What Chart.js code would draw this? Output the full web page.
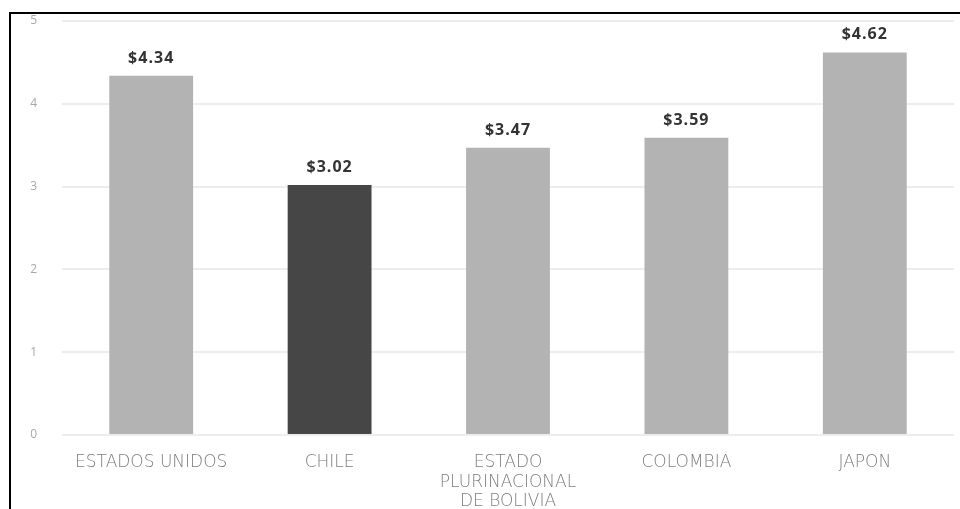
<html lang="es">
<head>
  <meta charset="utf-8">
  <script src="https://cdn.jsdelivr.net/npm/chart.js@4.4.1/dist/chart.umd.min.js"></script>
  <style>
    html, body { margin: 0; padding: 0; background: #fff; }
    #wrap { position: relative; width: 960px; height: 509px; overflow: hidden; }
    #frame { position: absolute; left: 9px; top: 12px; right: -10px; bottom: -10px;
             border-left: 2px solid #000; border-top: 2px solid #000; pointer-events: none; }
    canvas { position: absolute; left: 0; top: 0; }
  </style>
</head>
<body>
  <div id="wrap">
    <canvas id="chart" width="960" height="509"></canvas>
    <div id="frame"></div>
  </div>

<script>
  // datos
  var paises = [["ESTADOS UNIDOS"], ["CHILE"], ["ESTADO", "PLURINACIONAL", "DE BOLIVIA"], ["COLOMBIA"], ["JAPON"]];
  var precios = [4.34, 3.02, 3.47, 3.59, 4.62];
  var colores = ["#b3b3b3", "#464646", "#b3b3b3", "#b3b3b3", "#b3b3b3"];
  var yTicks = [0, 1, 2, 3, 4, 5];

  // etiquetas de valor sobre las barras
  var valueLabels = {
    id: 'valueLabels',
    afterDatasetsDraw: function(chart) {
      var ctx = chart.ctx;
      var meta = chart.getDatasetMeta(0);
      ctx.save();
      ctx.font = 'bold 16px "Open Sans", sans-serif';
      ctx.letterSpacing = '1px';
      ctx.fillStyle = '#333';
      ctx.textAlign = 'center';
      ctx.textBaseline = 'alphabetic';
      meta.data.forEach(function(bar, i) {
        ctx.fillText('$' + precios[i].toFixed(2), bar.x, bar.y - 13);
      });
      ctx.restore();
    }
  };

  new Chart(document.getElementById('chart'), {
    type: 'bar',
    data: {
      labels: paises,
      datasets: [{
        data: precios,
        backgroundColor: colores,
        borderWidth: 0,
        categoryPercentage: 1,
        barPercentage: 0.47
      }]
    },
    options: {
      responsive: false,
      animation: false,
      layout: { padding: { left: 12, top: 21, right: 6, bottom: 0 } },
      plugins: { legend: { display: false }, tooltip: { enabled: false } },
      scales: {
        x: {
          grid: { display: false },
          border: { display: false },
          ticks: {
            color: '#7d7d7d',
            font: { family: '"DejaVu Sans", sans-serif', size: 17, weight: '200', lineHeight: 1.15 },
            padding: 10,
            maxRotation: 0,
            autoSkip: false
          },
          afterFit: function(s) { s.height = 74; }
        },
        y: {
          min: 0,
          max: 5,
          afterBuildTicks: function(s) { s.ticks = yTicks.map(function(v) { return { value: v }; }); },
          grid: { color: '#ededed', lineWidth: 2, drawTicks: false },
          border: { display: false },
          ticks: {
            color: '#a8a8a8',
            font: { family: '"Open Sans", sans-serif', size: 12 },
            padding: 25
          },
          afterFit: function(s) { s.width = 50; s.paddingTop = 0; s.paddingBottom = 0; }
        }
      }
    },
    plugins: [valueLabels]
  });
</script>
</body>
</html>
